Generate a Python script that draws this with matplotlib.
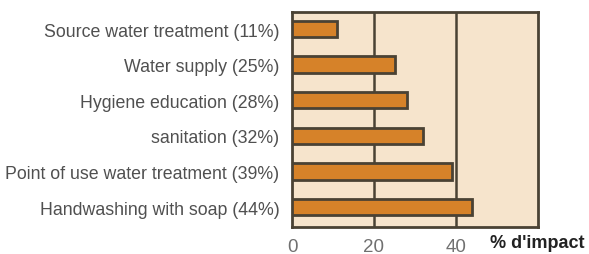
import matplotlib
matplotlib.use("Agg")
import matplotlib.pyplot as plt

# Data
categories = [
    "Source water treatment (11%)",
    "Water supply (25%)",
    "Hygiene education (28%)",
    "sanitation (32%)",
    "Point of use water treatment (39%)",
    "Handwashing with soap (44%)",
]
values = [11, 25, 28, 32, 39, 44]
xticks = [0, 20, 40]

plt.rcParams["font.family"] = ["Liberation Sans", "DejaVu Sans"]

fig = plt.figure(figsize=(5.89, 2.55), dpi=100, facecolor="white")
ax = fig.add_axes([292 / 589, 1 - 228 / 255, 246 / 589, 215 / 255])
ax.set_facecolor("#f6e4cc")

frame_col = "#4a4234"
ax.barh(range(len(values)), values, height=0.46, color="#d68229",
        edgecolor=frame_col, linewidth=2, zorder=3)

# vertical grid lines at the tick positions
for x in xticks[1:]:
    ax.axvline(x, color=frame_col, linewidth=1.8, zorder=2)

ax.set_xlim(0, 60)
ax.set_ylim(5.56, -0.48)
ax.set_yticks(range(len(categories)))
ax.set_yticklabels(categories, fontsize=12.8, color="#505050")
ax.set_xticks(xticks)
ax.set_xticklabels([str(t) for t in xticks], fontsize=13.5, color="#707070")
ax.tick_params(axis="y", length=0, pad=9)
ax.tick_params(axis="x", length=0, pad=8)
for s in ax.spines.values():
    s.set_color(frame_col)
    s.set_linewidth(2)

fig.text(490 / 589, 1 - 244 / 255, "% d'impact", fontsize=13,
         fontweight="bold", color="#222222", va="center", ha="left")

fig.savefig("out.png", dpi=100)
